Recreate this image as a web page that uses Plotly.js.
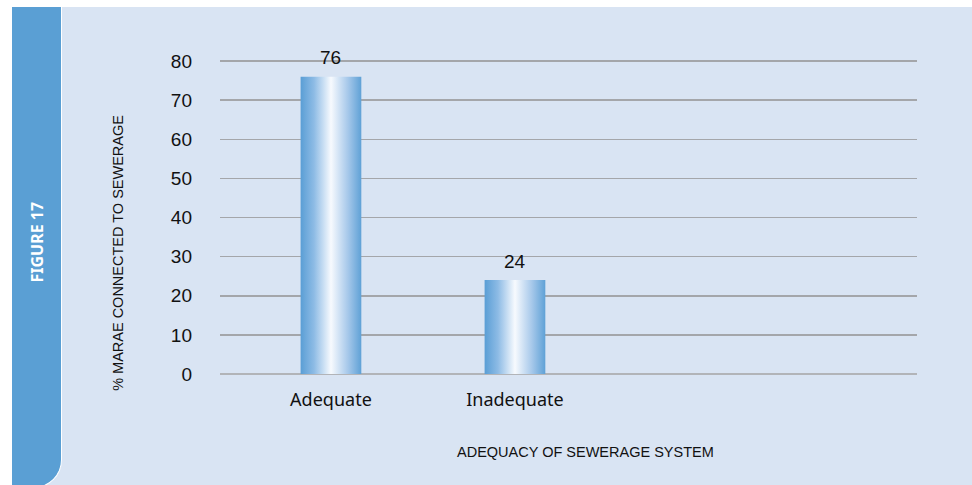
<!DOCTYPE html>
<html>
<head>
<meta charset="utf-8">
<script src="https://cdn.plot.ly/plotly-3.0.1.min.js"></script>
<style>
  html, body { margin: 0; padding: 0; background: #ffffff; }
  #wrap { position: relative; width: 972px; height: 485px; overflow: hidden; background: #ffffff; }
  #panel { position: absolute; left: 40px; top: 7px; width: 932px; height: 478px; background: #d9e4f3; }
  #side { position: absolute; left: 12px; top: 7px; width: 49px; height: 480px; background: #5a9fd4;
          border-right: 1.5px solid #ffffff; border-bottom: 1.5px solid #ffffff; border-bottom-right-radius: 28px; }
  #chart { position: absolute; left: 0; top: 0; width: 972px; height: 485px; }
</style>
</head>
<body>
<div id="wrap">
  <div id="panel"></div>
  <div id="side"></div>
  <div id="chart"></div>
</div>
<script>
// Share of marae connected to sewerage, by adequacy of the system
const categories = ['Adequate', 'Inadequate'];
const percentValues = [76, 24];
const yTickValues = [0, 10, 20, 30, 40, 50, 60, 70, 80];

const numFont = 'Liberation Sans, Arial, sans-serif';
const textFont = 'Noto Sans, Liberation Sans, sans-serif';

const trace = {
  type: 'bar',
  x: categories,
  y: percentValues,
  width: 0.33,
  marker: { color: '#9cc3e6', line: { width: 0 } },
  hoverinfo: 'skip'
};

// value labels sit just above each bar
const valueLabels = categories.map((c, i) => ({
  x: c, y: percentValues[i], xref: 'x', yref: 'y',
  text: String(percentValues[i]), showarrow: false,
  yshift: 19, font: { family: numFont, size: 19, color: '#111111' }
}));

// plot area: 0 sits at y=374, 80 at y=61 (3.9125 px per unit)
const layout = {
  width: 972, height: 485,
  margin: { l: 220, r: 55, t: 58, b: 111 },
  paper_bgcolor: 'rgba(0,0,0,0)',
  plot_bgcolor: 'rgba(0,0,0,0)',
  showlegend: false,
  xaxis: {
    type: 'category',
    range: [-0.603, 3.185],
    showgrid: false, zeroline: false, showline: false,
    ticks: '', ticklabelstandoff: 13,
    tickfont: { family: textFont, size: 18, color: '#111111' },
    fixedrange: true
  },
  yaxis: {
    range: [0, 80.77],
    tickvals: yTickValues,
    ticktext: yTickValues.map(String),
    showgrid: true, gridcolor: '#a4a6aa', gridwidth: 1.5,
    zeroline: true, zerolinecolor: '#b2b4b8', zerolinewidth: 2,
    showline: false, ticks: '', ticklabelstandoff: 27,
    tickfont: { family: numFont, size: 19, color: '#111111' },
    fixedrange: true
  },
  annotations: valueLabels.concat([
    {
      text: 'ADEQUACY OF SEWERAGE SYSTEM', xref: 'paper', yref: 'paper',
      x: 0.5237, y: -0.2462, xanchor: 'center', yanchor: 'middle', showarrow: false,
      font: { family: numFont, size: 14.5, color: '#111111' }
    },
    {
      text: '% MARAE CONNECTED TO SEWERAGE', xref: 'paper', yref: 'paper',
      x: -0.1463, y: 0.3834, xanchor: 'center', yanchor: 'middle', showarrow: false,
      textangle: -90, font: { family: numFont, size: 14.5, color: '#111111' }
    },
    {
      text: '<b>FIGURE 17</b>', xref: 'paper', yref: 'paper',
      x: -0.2626, y: 0.4193, xanchor: 'center', yanchor: 'middle', showarrow: false,
      textangle: -90, font: { family: textFont, size: 16, color: '#ffffff' }
    }
  ])
};

// horizontal metallic gradient for the bar fills
function applyBarGradient(gd) {
  const svg = gd.querySelector('svg.main-svg');
  if (!svg) return;
  let defs = svg.querySelector('defs');
  if (!defs) {
    defs = document.createElementNS('http://www.w3.org/2000/svg', 'defs');
    svg.insertBefore(defs, svg.firstChild);
  }
  if (!svg.querySelector('#barGrad')) {
    const ns = 'http://www.w3.org/2000/svg';
    const grad = document.createElementNS(ns, 'linearGradient');
    grad.setAttribute('id', 'barGrad');
    grad.setAttribute('x1', '0'); grad.setAttribute('y1', '0');
    grad.setAttribute('x2', '1'); grad.setAttribute('y2', '0');
    [['0', '#5a9ed5'], ['0.22', '#8dbbe5'], ['0.5', '#f7fafe'], ['0.78', '#a6c8ea'], ['1', '#5fa1d6']]
      .forEach(([o, c]) => {
        const s = document.createElementNS(ns, 'stop');
        s.setAttribute('offset', o);
        s.setAttribute('stop-color', c);
        grad.appendChild(s);
      });
    defs.appendChild(grad);
  }
  gd.querySelectorAll('.trace.bars .point path').forEach(p => {
    p.style.fill = 'url(#barGrad)';
    p.style.fillOpacity = '1';
  });
}

const gd = document.getElementById('chart');
Plotly.newPlot(gd, [trace], layout, { displayModeBar: false, staticPlot: true }).then(() => {
  applyBarGradient(gd);
  gd.on('plotly_afterplot', () => applyBarGradient(gd));
});
</script>
</body>
</html>
